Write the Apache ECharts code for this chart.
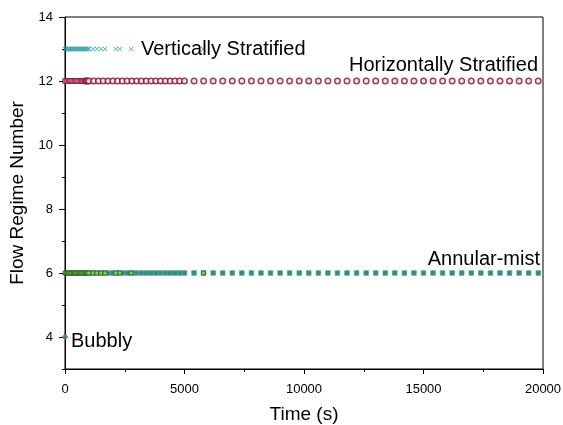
<!DOCTYPE html>
<html><head><meta charset="utf-8">
<script src="https://cdn.jsdelivr.net/npm/echarts@6/dist/echarts.min.js"></script>
<style>html,body{margin:0;padding:0;background:#fff}#c{width:563px;height:425px}</style>
</head><body><div id="c"></div>
<script>
// ---- data ----
var regimeVert = 13, regimeHoriz = 12, regimeAnnular = 6, regimeBubbly = 4;
var denseTimes = [0,50,100,150,200,250,300,350,400,450,500,550,600,650,700,750,800,850,900,950,1000];
var midTimes = [1200,1400,1600,1800,2000,2200,2400,2600,2800,3000,3200,3400,3600,3800,4000,4200,4400,4600,4800,5000];
var tailTimes = [5400,5800,6200,6600,7000,7400,7800,8200,8600,9000,9400,9800,10200,10600,11000,11400,11800,12200,12600,13000,13400,13800,14200,14600,15000,15400,15800,16200,16600,17000,17400,17800,18200,18600,19000,19400,19800];
var sporadicTimes = [1170,1330,1500,1670,2125,2290,2770,5790];
var bubblyTimes = [0];
var xTicks = [0,5000,10000,15000,20000];
var yTicks = [4,6,8,10,12,14];
var yMinor = [3,5,7,9,11,13];

var vertTimes = denseTimes.concat(sporadicTimes);
var horizSqTimes = denseTimes.slice(0,19);
var horizCircTimes = [850,900,950,1000].concat(midTimes, tailTimes);
var annularTimes = [1000].concat(midTimes, tailTimes);
var annularLightTimes = denseTimes.concat(sporadicTimes);

function pts(times, v){ return times.map(function(t){ return [t, v]; }); }

var FONT = 'Liberation Sans, Arial, sans-serif';
var xPath = 'path://M0,1L1,0L5,4L9,0L10,1L6,5L10,9L9,10L5,6L1,10L0,9L4,5Z';

var chart = echarts.init(document.getElementById('c'), null, {renderer:'canvas'});
chart.setOption({
  animation:false,
  backgroundColor:'#fff',
  grid:{left:65, right:20, top:17, bottom:56, outerBoundsMode:'none', containLabel:false,
    show:true, borderColor:'#000', borderWidth:1, backgroundColor:'transparent'},
  xAxis:{
    type:'value', min:0, max:20000, interval:5000,
    name:'Time (s)', nameLocation:'middle', nameGap:36,
    nameTextStyle:{fontFamily:FONT, fontSize:19, color:'#000'},
    axisLine:{show:true, onZero:false, lineStyle:{color:'#000', width:1}},
    axisTick:{show:true, length:5, lineStyle:{color:'#000'}},
    minorTick:{show:true, splitNumber:2, length:3, lineStyle:{color:'#000'}},
    axisLabel:{fontFamily:FONT, fontSize:13, color:'#000', margin:14, customValues:xTicks,
      formatter:function(v){ return String(v); }},
    splitLine:{show:false}
  },
  yAxis:[{
    type:'value', min:3, max:14, interval:1,
    name:'Flow Regime Number', nameLocation:'middle', nameGap:31, nameRotate:90,
    nameTextStyle:{fontFamily:FONT, fontSize:19, color:'#000'},
    axisLine:{show:true, onZero:false, lineStyle:{color:'#000', width:1}},
    axisTick:{show:true, length:6, customValues:yTicks, lineStyle:{color:'#000'}},
    axisLabel:{fontFamily:FONT, fontSize:13, color:'#000', margin:12, customValues:yTicks,
      formatter:function(v){ return String(v); }},
    splitLine:{show:false}
  },{
    type:'value', min:3, max:14, interval:1, position:'left',
    axisLine:{show:false},
    axisTick:{show:true, length:3, customValues:yMinor, lineStyle:{color:'#000'}},
    axisLabel:{show:false},
    splitLine:{show:false}
  }],
  series:[
    {type:'scatter', name:'Horizontally Stratified (sq)', data:pts(horizSqTimes, regimeHoriz), symbol:'rect', symbolSize:4.5,
      itemStyle:{color:'#e8c8d8', borderColor:'#8a0f30', borderWidth:1}},
    {type:'scatter', name:'Horizontally Stratified', data:pts(horizCircTimes, regimeHoriz), symbol:'circle', symbolSize:5.5,
      itemStyle:{color:'#f3e6f3', borderColor:'#8a0f30', borderWidth:1.5}},
    {type:'scatter', name:'Vertically Stratified', data:pts(vertTimes, regimeVert), symbol:xPath, symbolSize:5,
      itemStyle:{color:'#1f9a9a'}},
    {type:'scatter', name:'Annular-mist', data:pts(annularTimes, regimeAnnular), symbol:'rect', symbolSize:4.5,
      itemStyle:{color:'#0c6a55', borderColor:'#3ea59c', borderWidth:1}},
    {type:'scatter', name:'Annular-mist (b)', data:pts(annularLightTimes, regimeAnnular), symbol:'rect', symbolSize:4,
      itemStyle:{color:'#a8d84a', borderColor:'#1c5a2a', borderWidth:1}},
    {type:'scatter', name:'Bubbly', data:pts(bubblyTimes, regimeBubbly), symbol:'diamond', symbolSize:6,
      itemStyle:{color:'#3a9a8a', borderColor:'#7a3aa0', borderWidth:0.8}}
  ],
  graphic:[
    {type:'text', left:141, top:39, style:{text:'Vertically Stratified', font:'20px '+FONT, fill:'#000'}, z:100},
    {type:'text', right:25, top:55, style:{text:'Horizontally Stratified', font:'20px '+FONT, fill:'#000'}, z:100},
    {type:'text', right:23, top:249, style:{text:'Annular-mist', font:'20px '+FONT, fill:'#000'}, z:100},
    {type:'text', left:71, top:331, style:{text:'Bubbly', font:'20px '+FONT, fill:'#000'}, z:100}
  ]
});
</script>
</body></html>
